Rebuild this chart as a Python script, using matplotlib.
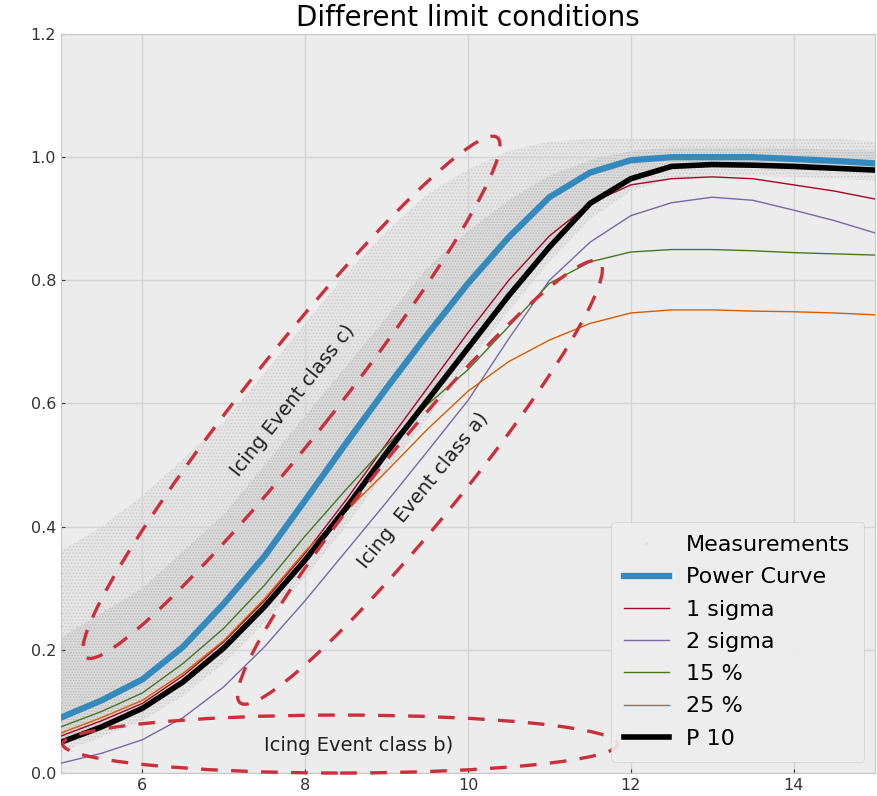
"""Power curve limit conditions with icing event classes."""

import matplotlib
matplotlib.use('Agg')
import matplotlib.pyplot as plt
import matplotlib.transforms as mtransforms
from matplotlib.patches import Ellipse
from matplotlib.lines import Line2D

plt.style.use('bmh')
plt.rcParams['font.family'] = ['DejaVu Sans']
plt.rcParams['hatch.linewidth'] = 0.8

# wind speed grid
wind = [5, 5.5, 6, 6.5, 7, 7.5, 8, 8.5, 9, 9.5, 10, 10.5, 11, 11.5, 12, 12.5, 13, 13.5, 14, 14.5, 15]

power_curve = [0.090, 0.118, 0.152, 0.205, 0.275, 0.352, 0.443, 0.535, 0.625, 0.712, 0.795, 0.870, 0.935,
               0.975, 0.995, 1.000, 1.000, 1.000, 0.997, 0.994, 0.990]
sigma_1 = [0.060, 0.085, 0.113, 0.158, 0.213, 0.280, 0.357, 0.443, 0.535, 0.625, 0.715, 0.800, 0.872,
           0.925, 0.955, 0.965, 0.968, 0.965, 0.955, 0.945, 0.932]
sigma_2 = [0.016, 0.032, 0.054, 0.090, 0.140, 0.205, 0.280, 0.360, 0.440, 0.522, 0.605, 0.705, 0.800,
           0.862, 0.905, 0.926, 0.935, 0.930, 0.914, 0.897, 0.877]
pct_15 = [0.075, 0.100, 0.130, 0.178, 0.235, 0.305, 0.385, 0.460, 0.532, 0.598, 0.655, 0.725, 0.795,
          0.830, 0.846, 0.850, 0.850, 0.848, 0.845, 0.843, 0.841]
pct_25 = [0.065, 0.090, 0.118, 0.162, 0.215, 0.283, 0.360, 0.425, 0.490, 0.558, 0.620, 0.668, 0.703,
          0.730, 0.747, 0.752, 0.752, 0.750, 0.749, 0.747, 0.744]
p_10 = [0.050, 0.075, 0.105, 0.148, 0.203, 0.270, 0.346, 0.430, 0.520, 0.605, 0.690, 0.775, 0.854,
        0.925, 0.965, 0.985, 0.988, 0.987, 0.985, 0.982, 0.979]

# envelope of the measurement cloud (sparse outer part and dense core)
meas_outer_hi = [0.36, 0.40, 0.45, 0.51, 0.57, 0.65, 0.73, 0.81, 0.88, 0.94, 0.98, 1.01, 1.025, 1.03,
                 1.03, 1.03, 1.03, 1.03, 1.03, 1.03, 1.025]
meas_core_hi = [0.22, 0.26, 0.30, 0.36, 0.42, 0.50, 0.58, 0.66, 0.74, 0.82, 0.88, 0.93, 0.97, 0.995,
                1.01, 1.015, 1.015, 1.015, 1.015, 1.012, 1.01]
meas_core_lo = [0.055, 0.080, 0.110, 0.150, 0.205, 0.270, 0.350, 0.430, 0.520, 0.600, 0.690, 0.770,
                0.850, 0.920, 0.960, 0.980, 0.985, 0.985, 0.980, 0.978, 0.975]
meas_outer_lo = [0.035, 0.058, 0.085, 0.125, 0.178, 0.243, 0.318, 0.400, 0.490, 0.575, 0.665, 0.750,
                 0.830, 0.900, 0.945, 0.965, 0.970, 0.970, 0.968, 0.965, 0.962]

# icing event annotations: label, ellipse centre (x, y), length px, width px, angle, text centre (x, y)
events = [
    ('Icing Event class c)', 7.83, 0.610, 663, 85, 51.6, 7.85, 0.605),
    ('Icing  Event class a)', 9.41, 0.472, 569, 80, 50.8, 9.45, 0.459),
    ('Icing Event class b)', 8.43, 0.047, 555, 58, 0.0, 8.66, 0.045),
]

fig = plt.figure(figsize=(8.77, 7.96), dpi=100)
ax = fig.add_axes([61 / 877, 23 / 796, 814 / 877, 739 / 796])
ax.set_facecolor('#ececec')

# measurements cloud
ax.fill_between(wind, meas_outer_lo, meas_outer_hi, facecolor='#e6e6e6', edgecolor='#cbcbcb',
                hatch='.....', linewidth=0, zorder=1)
ax.fill_between(wind, meas_core_lo, meas_core_hi, facecolor='#dcdcdc', edgecolor='#b9b9b9',
                hatch='......', linewidth=0, zorder=1)

ax.plot(wind, power_curve, color='#348ABD', lw=4.5, label='Power Curve', zorder=3)
ax.plot(wind, sigma_1, color='#A60628', lw=1.0, label='1 sigma', zorder=3)
ax.plot(wind, sigma_2, color='#7A68A6', lw=1.0, label='2 sigma', zorder=3)
ax.plot(wind, pct_15, color='#467821', lw=1.0, label='15 %', zorder=3)
ax.plot(wind, pct_25, color='#D55E00', lw=1.0, label='25 %', zorder=3)
ax.plot(wind, p_10, color='black', lw=4.0, label='P 10', zorder=3)

for label, cx, cy, length, width, angle, tx, ty in events:
    trans = fig.dpi_scale_trans + mtransforms.ScaledTranslation(cx, cy, ax.transData)
    ell = Ellipse((0, 0), length / 100, width / 100, angle=angle, transform=trans, fill=False,
                  edgecolor='#c9303c', lw=2.4, linestyle=(0, (5, 4)), zorder=4, clip_on=False)
    ax.add_patch(ell)
    ax.text(tx, ty, label, rotation=angle, ha='center', va='center', fontsize=14,
            color='#222222', rotation_mode='anchor', zorder=5)

ax.set_xlim(5, 15)
ax.set_ylim(0, 1.2)
ax.set_xticks([6, 8, 10, 12, 14])
ax.set_yticks([0.0, 0.2, 0.4, 0.6, 0.8, 1.0, 1.2])
ax.tick_params(labelsize=11.5, colors='#333333', length=3)
ax.grid(True, color='#d4d4d4', lw=1.0, linestyle='-')
for s in ax.spines.values():
    s.set_color('#c8c8c8')

handles, labels = ax.get_legend_handles_labels()
meas = Line2D([], [], ls='none', marker='.', ms=2, color='#dddddd')
ax.legend([meas] + handles, ['Measurements'] + labels, loc='lower right', fontsize=16,
          labelspacing=0.55, borderpad=0.6, facecolor='#eeeeee', edgecolor='#cccccc',
          framealpha=0.9)

ax.set_title('Different limit conditions', fontsize=20, pad=6)

fig.savefig('out.png', dpi=100)
